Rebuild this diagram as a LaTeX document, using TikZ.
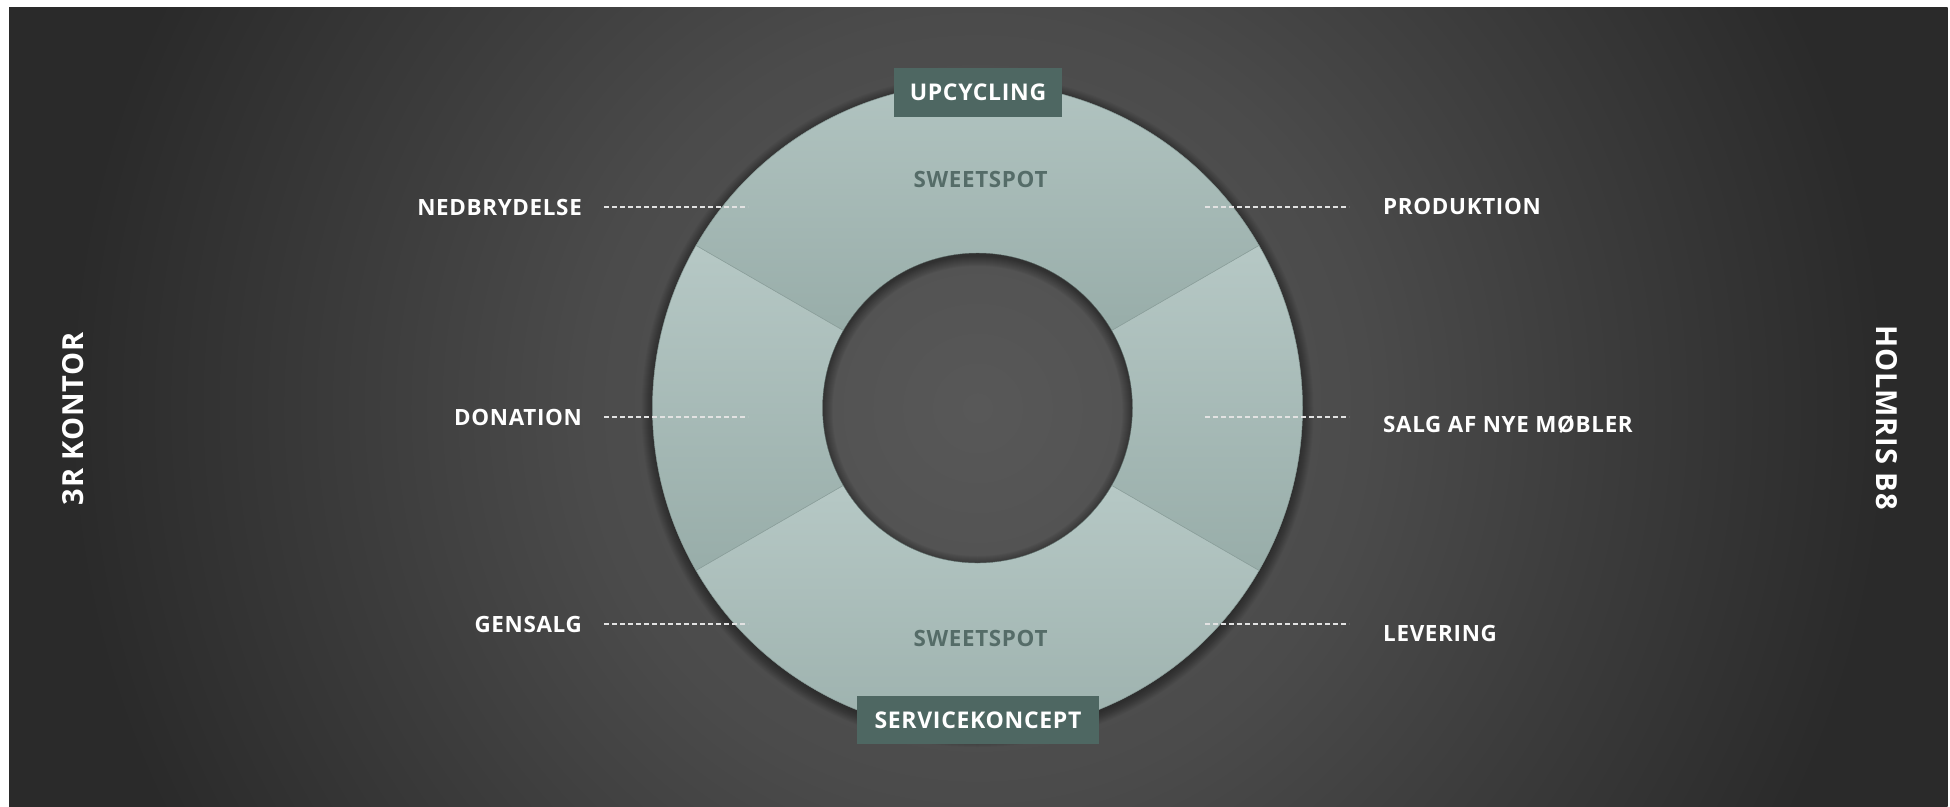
\documentclass[tikz,border=0pt]{standalone}
\usepackage{fontspec}
\setmainfont{Open Sans}
\newfontfamily\lblfont{Open Sans}[LetterSpace=3.0]
\usetikzlibrary{calc}
\definecolor{bgA}{HTML}{585858}
\definecolor{bgB}{HTML}{4B4B4B}
\definecolor{bgC}{HTML}{3C3C3C}
\definecolor{bgD}{HTML}{2A2A2A}
\definecolor{segtop}{HTML}{B6C8C5}
\definecolor{segbot}{HTML}{98ADA9}
\definecolor{segline}{HTML}{8A9E9A}
\definecolor{boxfill}{HTML}{4E6762}
\definecolor{sweet}{HTML}{556C68}
\definecolor{dashc}{HTML}{E2E2E2}
\pgfdeclareradialshading{bgshade}{\pgfpoint{0bp}{0bp}}{color(0bp)=(bgA); color(10bp)=(bgB); color(16bp)=(bgC); color(23.5bp)=(bgD); color(25bp)=(bgD); color(50bp)=(bgD)}
\tikzset{
  lbl/.style={text=white, inner sep=0pt, font=\lblfont\bfseries\fontsize{22.4}{26}\selectfont},
  vlbl/.style={text=white, inner sep=0pt, font=\lblfont\bfseries\fontsize{29}{33}\selectfont},
  tagbox/.style={fill=boxfill, text=white, inner sep=0pt, font=\lblfont\bfseries\fontsize{23}{27}\selectfont},
  sweetlbl/.style={text=sweet, inner sep=0pt, font=\lblfont\bfseries\fontsize{22.4}{26}\selectfont},
  seg/.style={top color=segtop, bottom color=segbot, draw=segline, line width=0.5pt},
  dashline/.style={draw=dashc, line width=1.3pt, dash pattern=on 5pt off 3pt}
}
\begin{document}
\begin{tikzpicture}[x=1pt,y=-1pt]
\useasboundingbox (0,0) rectangle (1950,806);
\fill[white] (0,0) rectangle (1950,806);
\begin{scope}
  \clip (9,7) rectangle (1950,806);
  \shade[shading=bgshade] (7.5,-562) rectangle (1947.5,1378);
\end{scope}
\coordinate (C) at (977.5,408);
% outer shadow
\foreach \k in {1,...,12}{
  \fill[black, opacity=0.035, even odd rule] ($(C)+(0,3)$) circle (324+\k) (C) circle (290);
}
% segments
\path[seg] ($(C)+(-30:325)$) arc[start angle=-30, end angle=-150, radius=325] -- ($(C)+(-150:155)$) arc[start angle=-150, end angle=-30, radius=155] -- cycle;
\path[seg] ($(C)+(30:325)$) arc[start angle=30, end angle=-30, radius=325] -- ($(C)+(-30:155)$) arc[start angle=-30, end angle=30, radius=155] -- cycle;
\path[seg] ($(C)+(-150:325)$) arc[start angle=-150, end angle=-210, radius=325] -- ($(C)+(-210:155)$) arc[start angle=-210, end angle=-150, radius=155] -- cycle;
\path[seg] ($(C)+(150:325)$) arc[start angle=150, end angle=30, radius=325] -- ($(C)+(30:155)$) arc[start angle=30, end angle=150, radius=155] -- cycle;
% inner shadow in hole
\begin{scope}
  \clip (C) circle (155);
  \foreach \k in {0,...,10}{
    \fill[black, opacity=0.04, even odd rule] (C) circle (170) ($(C)+(0,3)$) circle (155-\k);
  }
\end{scope}
% boxes
\node[tagbox, minimum width=168pt, minimum height=49pt] (up) at (978,92.5) {UPCYCLING};
\node[tagbox, minimum width=242pt, minimum height=48pt] (svc) at (978,720) {SERVICEKONCEPT};
\node[sweetlbl] (sw1) at (980.5,179.5) {SWEETSPOT};
\node[sweetlbl] (sw2) at (980.5,638) {SWEETSPOT};
% left labels
\node[lbl, anchor=base east] (ned) at (582,215) {NEDBRYDELSE};
\node[lbl, anchor=base east] (don) at (582,425) {DONATION};
\node[lbl, anchor=base east] (gen) at (582,632) {GENSALG};
% right labels
\node[lbl, anchor=base west] (pro) at (1383,214) {PRODUKTION};
\node[lbl, anchor=base west] (sal) at (1383,432) {SALG AF NYE MØBLER};
\node[lbl, anchor=base west] (lev) at (1383,641) {LEVERING};
% dashed leaders
\coordinate (nedA) at (604,207); \coordinate (nedB) at (748,207);
\coordinate (donA) at (604,417); \coordinate (donB) at (748,417);
\coordinate (genA) at (604,624); \coordinate (genB) at (748,624);
\coordinate (proA) at (1205,207); \coordinate (proB) at (1349,207);
\coordinate (salA) at (1205,417); \coordinate (salB) at (1349,417);
\coordinate (levA) at (1205,624); \coordinate (levB) at (1349,624);
\draw[dashline] (nedA) -- (nedB);
\draw[dashline] (donA) -- (donB);
\draw[dashline] (genA) -- (genB);
\draw[dashline] (proA) -- (proB);
\draw[dashline] (salA) -- (salB);
\draw[dashline] (levA) -- (levB);
% vertical labels
\node[vlbl, rotate=90, anchor=base] (kon) at (83,418.5) {3R KONTOR};
\node[vlbl, rotate=-90, anchor=base] (hol) at (1876,417.5) {HOLMRIS B8};
\end{tikzpicture}
\end{document}
